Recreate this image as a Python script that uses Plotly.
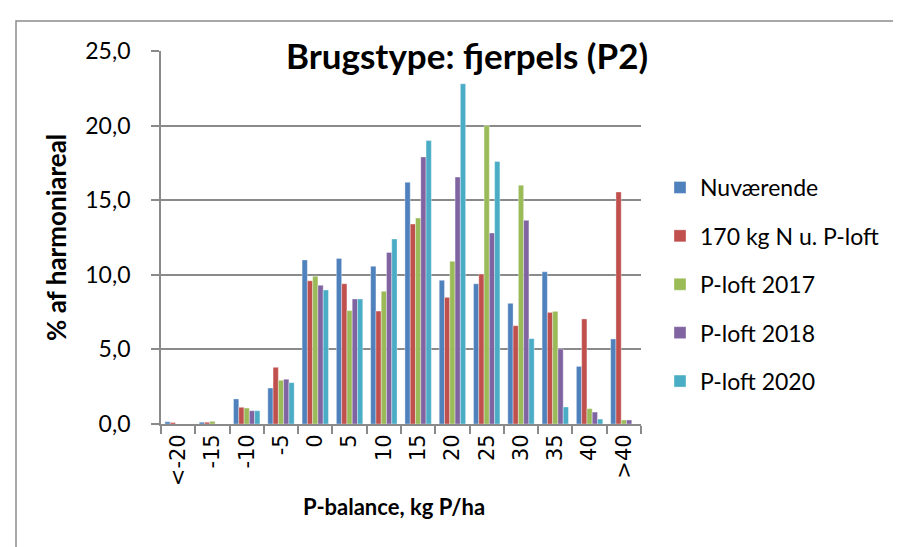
import plotly.graph_objects as go

categories = ["<-20", "-15", "-10", "-5", "0", "5", "10", "15", "20", "25", "30", "35", "40", ">40"]
series_names = ["Nuværende", "170 kg N u. P-loft", "P-loft 2017", "P-loft 2018", "P-loft 2020"]
nuvaerende = [0.15, 0.12, 1.68, 2.41, 11.0, 11.1, 10.57, 16.2, 9.63, 9.4, 8.09, 10.2, 3.86, 5.7]
kg170 = [0.1, 0.12, 1.12, 3.8, 9.6, 9.4, 7.57, 13.4, 8.49, 10.05, 6.59, 7.48, 7.04, 15.55]
ploft2017 = [0.0, 0.18, 1.07, 2.93, 9.9, 7.6, 8.9, 13.8, 10.9, 20.0, 16.0, 7.55, 1.03, 0.27]
ploft2018 = [0.0, 0.0, 0.89, 3.0, 9.3, 8.38, 11.5, 17.9, 16.55, 12.8, 13.65, 5.03, 0.8, 0.27]
ploft2020 = [0.0, 0.0, 0.89, 2.77, 8.98, 8.38, 12.4, 19.0, 22.8, 17.6, 5.72, 1.14, 0.33, 0.0]
colors = ["#4F81BD", "#C0504D", "#9BBB59", "#8064A2", "#4BACC6"]

all_series = [nuvaerende, kg170, ploft2017, ploft2018, ploft2020]

fig = go.Figure()
for i, (name, vals) in enumerate(zip(series_names, all_series)):
    fig.add_trace(go.Bar(
        x=categories, y=vals, name=name,
        marker=dict(color=colors[i], line=dict(color="rgba(255,255,255,0.6)", width=0.6)),
        legendgroup=f"g{i}",
    ))

L, R, T, B = 153, 633, 43, 416
W, H = 901, 547
pw, ph = R - L, B - T

def px(x):
    return (x - L) / pw

def py(y):
    return (B - y) / ph

grid_col = "#8a8a8a"
fig.update_layout(
    width=W, height=H,
    margin=dict(l=L, r=W - R, t=T, b=H - B, pad=0),
    paper_bgcolor="white", plot_bgcolor="white",
    separators=",.",
    barmode="group", bargap=0.23, bargroupgap=0,
    showlegend=True,
    legend=dict(
        x=px(652), y=py(158), xanchor="left", yanchor="top",
        font=dict(family="Lato", size=23, color="#000000"),
        traceorder="grouped", tracegroupgap=15.5,
        bgcolor="rgba(0,0,0,0)", itemwidth=30,
    ),
    xaxis=dict(
        type="category", tickangle=-90,
        showline=True, linecolor=grid_col, linewidth=1.8,
        ticks="outside", ticklen=8, tickcolor=grid_col, tickwidth=1.8,
        tickson="boundaries",
        tickfont=dict(family="DejaVu Sans", size=21, color="#000000"),
        showgrid=False,
    ),
    yaxis=dict(
        range=[0, 25], dtick=5, tickformat=".1f",
        showline=True, linecolor=grid_col, linewidth=1.8,
        ticks="outside", ticklen=8, tickcolor=grid_col, tickwidth=1.8,
        showgrid=True, gridcolor=grid_col, gridwidth=1.8,
        tickfont=dict(family="Lato", size=23, color="#000000"),
        ticklabelstandoff=16,
        zeroline=False,
    ),
    annotations=[
        dict(text="<b>Brugstype: fjerpels (P2)</b>", x=px(459), y=py(47), xref="paper", yref="paper",
             showarrow=False, font=dict(family="Lato", size=35, color="#000000"), xanchor="center", yanchor="middle"),
        dict(text="<b>% af harmoniareal</b>", x=px(48), y=py(230), xref="paper", yref="paper",
             showarrow=False, textangle=-90, font=dict(family="Lato", size=26, color="#000000"), xanchor="center", yanchor="middle"),
        dict(text="<b>P-balance, kg P/ha</b>", x=px(386), y=py(498), xref="paper", yref="paper",
             showarrow=False, font=dict(family="Lato", size=22, color="#000000"), xanchor="center", yanchor="middle"),
    ],
    shapes=[
        dict(type="rect", xref="paper", yref="paper", x0=px(8), y0=py(560), x1=px(915), y1=py(13),
             line=dict(color="#8c8c8c", width=1.5), fillcolor="rgba(0,0,0,0)", layer="below"),
    ],
)

fig.write_html("out.html")
